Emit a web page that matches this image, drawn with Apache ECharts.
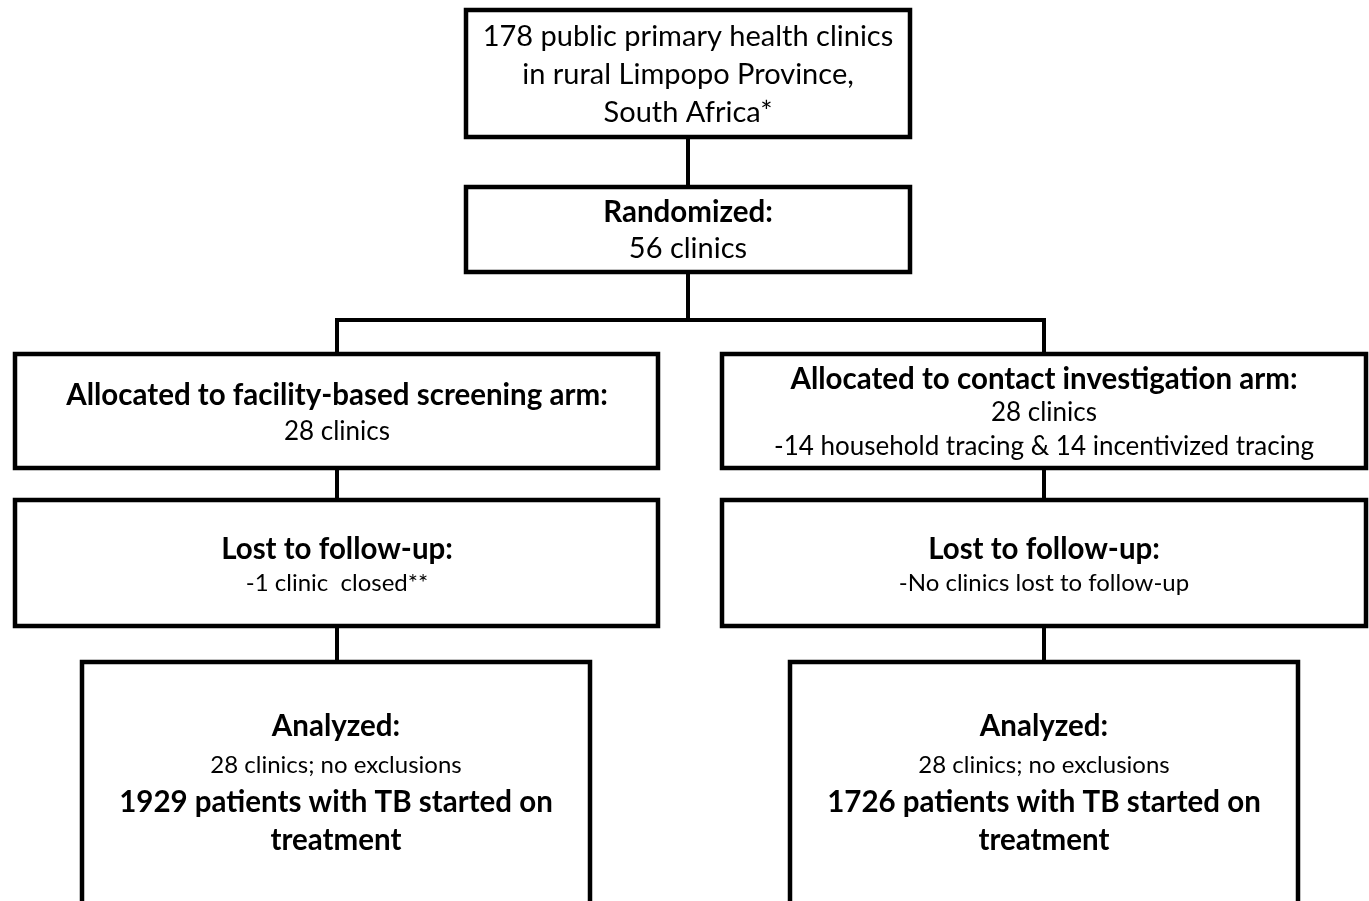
<!DOCTYPE html>
<html><head><meta charset="utf-8">
<script src="https://cdn.jsdelivr.net/npm/echarts@6/dist/echarts.min.js"></script>
<style>html,body{margin:0;padding:0;background:#fff}#c{width:1369px;height:901px}</style>
</head><body><div id="c"></div>
<script>
// ---- data: text of each box ----
const topBoxLines = ['178 public primary health clinics', 'in rural Limpopo Province,', 'South Africa*'];
const randomizedLines = ['Randomized:', '56 clinics'];
const leftAllocLines = ['Allocated to facility-based screening arm:', '28 clinics'];
const rightAllocLines = ['Allocated to contact investigation arm:', '28 clinics', '-14 household tracing & 14 incentivized tracing'];
const leftLostLines = ['Lost to follow-up:', '-1 clinic  closed**'];
const rightLostLines = ['Lost to follow-up:', '-No clinics lost to follow-up'];
const leftAnalyzedLines = ['Analyzed:', '28 clinics; no exclusions', '1929 patients with TB started on', 'treatment'];
const rightAnalyzedLines = ['Analyzed:', '28 clinics; no exclusions', '1726 patients with TB started on', 'treatment'];

// ---- layout (diagram units = pixels of a 1369x901 canvas) ----
const FONT = 'Lato, "Open Sans", sans-serif';
const styles = {
  big: {fontSize: 29, fontWeight: 'normal'},
  bold: {fontSize: 29.5, fontWeight: 'bold'},
  mid: {fontSize: 26, fontWeight: 'normal'},
  small: {fontSize: 24, fontWeight: 'normal'}
};
const boxes = [
  {rect: [466, 10, 910, 137], cx: 688, lines: topBoxLines, ys: [37, 75, 113], st: ['big', 'big', 'big']},
  {rect: [466, 187, 910, 272], cx: 688, lines: randomizedLines, ys: [212, 249], st: ['bold', 'big']},
  {rect: [15, 354, 658, 468], cx: 337, lines: leftAllocLines, ys: [395, 432], st: ['bold', 'mid']},
  {rect: [722, 354, 1366, 468], cx: 1044, lines: rightAllocLines, ys: [379, 413, 447], st: ['bold', 'mid', 'mid']},
  {rect: [15, 500, 658, 626], cx: 337, lines: leftLostLines, ys: [549, 583], st: ['bold', 'small']},
  {rect: [722, 500, 1366, 626], cx: 1044, lines: rightLostLines, ys: [549, 583], st: ['bold', 'small']},
  {rect: [82, 662, 590, 915], cx: 336, lines: leftAnalyzedLines, ys: [726, 765, 802, 840], st: ['bold', 'small', 'bold', 'bold']},
  {rect: [790, 662, 1298, 915], cx: 1044, lines: rightAnalyzedLines, ys: [726, 765, 802, 840], st: ['bold', 'small', 'bold', 'bold']}
];
const connectors = [
  [[688, 137], [688, 187]],
  [[688, 272], [688, 320]],
  [[337, 354], [337, 320], [1044, 320], [1044, 354]],
  [[337, 468], [337, 500]],
  [[1044, 468], [1044, 500]],
  [[337, 626], [337, 662]],
  [[1044, 626], [1044, 662]]
];

const textItems = [];
boxes.forEach(b => b.lines.forEach((t, i) => textItems.push({x: b.cx, y: b.ys[i], text: t, st: b.st[i]})));

const chart = echarts.init(document.getElementById('c'), null, {renderer: 'canvas'});
chart.setOption({
  animation: false,
  backgroundColor: '#ffffff',
  grid: {left: 0, right: 0, top: 0, bottom: 0},
  xAxis: {type: 'value', min: 0, max: 1369, show: false},
  yAxis: {type: 'value', min: 0, max: 901, inverse: true, show: false},
  series: [
    {
      type: 'custom', silent: true, clip: false,
      data: connectors.map((c, i) => [i]),
      renderItem: (params, api) => {
        const pts = connectors[params.dataIndex].map(p => api.coord(p));
        return {type: 'polyline', shape: {points: pts}, style: {stroke: '#000', lineWidth: 4, fill: null, lineJoin: 'miter'}};
      }
    },
    {
      type: 'custom', silent: true, clip: false,
      data: boxes.map(b => b.rect),
      renderItem: (params, api) => {
        const p0 = api.coord([api.value(0), api.value(1)]);
        const p1 = api.coord([api.value(2), api.value(3)]);
        return {type: 'rect', shape: {x: Math.min(p0[0], p1[0]), y: Math.min(p0[1], p1[1]), width: Math.abs(p1[0] - p0[0]), height: Math.abs(p1[1] - p0[1])},
          style: {fill: '#fff', stroke: '#000', lineWidth: 4.5}};
      }
    },
    {
      type: 'custom', silent: true, clip: false, z: 5,
      data: textItems.map((t, i) => [t.x, t.y, i]),
      renderItem: (params, api) => {
        const t = textItems[params.dataIndex];
        const p = api.coord([api.value(0), api.value(1)]);
        const s = styles[t.st];
        return {type: 'text', x: p[0], y: p[1], style: {text: t.text, fill: '#000', fontFamily: FONT, fontSize: s.fontSize, fontWeight: s.fontWeight, align: 'center', verticalAlign: 'middle'}};
      }
    }
  ]
});
</script></body></html>
